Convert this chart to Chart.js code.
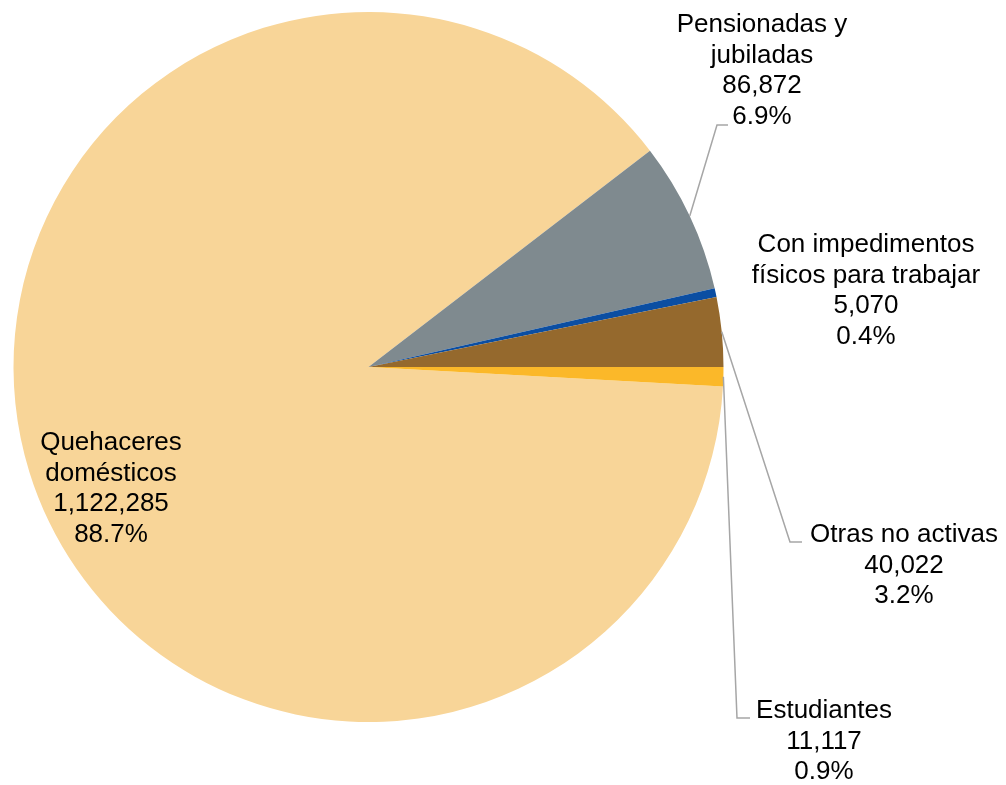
<!DOCTYPE html>
<html>
<head>
<meta charset="utf-8">
<script src="https://cdn.jsdelivr.net/npm/chart.js@4/dist/chart.umd.min.js"></script>
<style>
  html, body { margin: 0; padding: 0; background: #ffffff; }
  #wrap { width: 1006px; height: 785px; position: relative; }
</style>
</head>
<body>
<div id="wrap"><canvas id="c" width="1006" height="785"></canvas></div>
<script>
// ---- Data ----
const categories = ["Quehaceres domésticos", "Pensionadas y jubiladas", "Con impedimentos físicos para trabajar", "Otras no activas", "Estudiantes"];
const categoryLines = [["Quehaceres", "domésticos"], ["Pensionadas y", "jubiladas"], ["Con impedimentos", "físicos para trabajar"], ["Otras no activas"], ["Estudiantes"]];
const values = [1122285, 86872, 5070, 40022, 11117];
const sliceColors = ["#F8D598", "#7F8A8F", "#0B4EA2", "#95692D", "#FBB829"];

// ---- Label layout (text anchor: centre x, first baseline y; optional leader elbow/end) ----
const labelLayout = [
  { x: 111, y: 450, leader: null },
  { x: 762, y: 32,  leader: [[717, 125], [728, 125]] },
  { x: 866, y: 252, leader: null },
  { x: 904, y: 542, leader: [[790, 542], [802, 542]] },
  { x: 824, y: 718, leader: [[737, 718], [750, 718]] }
];

const total = values.reduce((a, b) => a + b, 0);
const lastShare = values[values.length - 1] / total;

const labelPlugin = {
  id: 'sliceLabels',
  afterDraw(chart) {
    const ctx = chart.ctx;
    const meta = chart.getDatasetMeta(0);
    ctx.save();
    meta.data.forEach((arc, i) => {
      const lay = labelLayout[i];
      const p = arc.getProps(['x', 'y', 'startAngle', 'endAngle', 'outerRadius'], true);
      if (lay.leader) {
        const mid = (p.startAngle + p.endAngle) / 2;
        const sx = p.x + Math.cos(mid) * p.outerRadius;
        const sy = p.y + Math.sin(mid) * p.outerRadius;
        ctx.beginPath();
        ctx.strokeStyle = '#A6A6A6';
        ctx.lineWidth = 1.5;
        ctx.moveTo(sx, sy);
        lay.leader.forEach(pt => ctx.lineTo(pt[0], pt[1]));
        ctx.stroke();
      }
      const v = values[i];
      const lines = categoryLines[i].concat([v.toLocaleString('en-US'), (v / total * 100).toFixed(1) + '%']);
      ctx.fillStyle = '#000000';
      ctx.font = '26px "Liberation Sans", Arial, sans-serif';
      ctx.textAlign = 'center';
      ctx.textBaseline = 'alphabetic';
      lines.forEach((t, k) => ctx.fillText(t, lay.x, lay.y + k * 30.7));
    });
    ctx.restore();
  }
};

new Chart(document.getElementById('c'), {
  type: 'pie',
  data: {
    labels: categories,
    datasets: [{
      data: values,
      backgroundColor: sliceColors,
      borderWidth: 0
    }]
  },
  options: {
    responsive: false,
    animation: false,
    rotation: 90 + lastShare * 360,
    layout: { padding: { left: 13, top: 12, right: 282, bottom: 63 } },
    plugins: {
      legend: { display: false },
      tooltip: { enabled: false }
    }
  },
  plugins: [labelPlugin]
});
</script>
</body>
</html>
